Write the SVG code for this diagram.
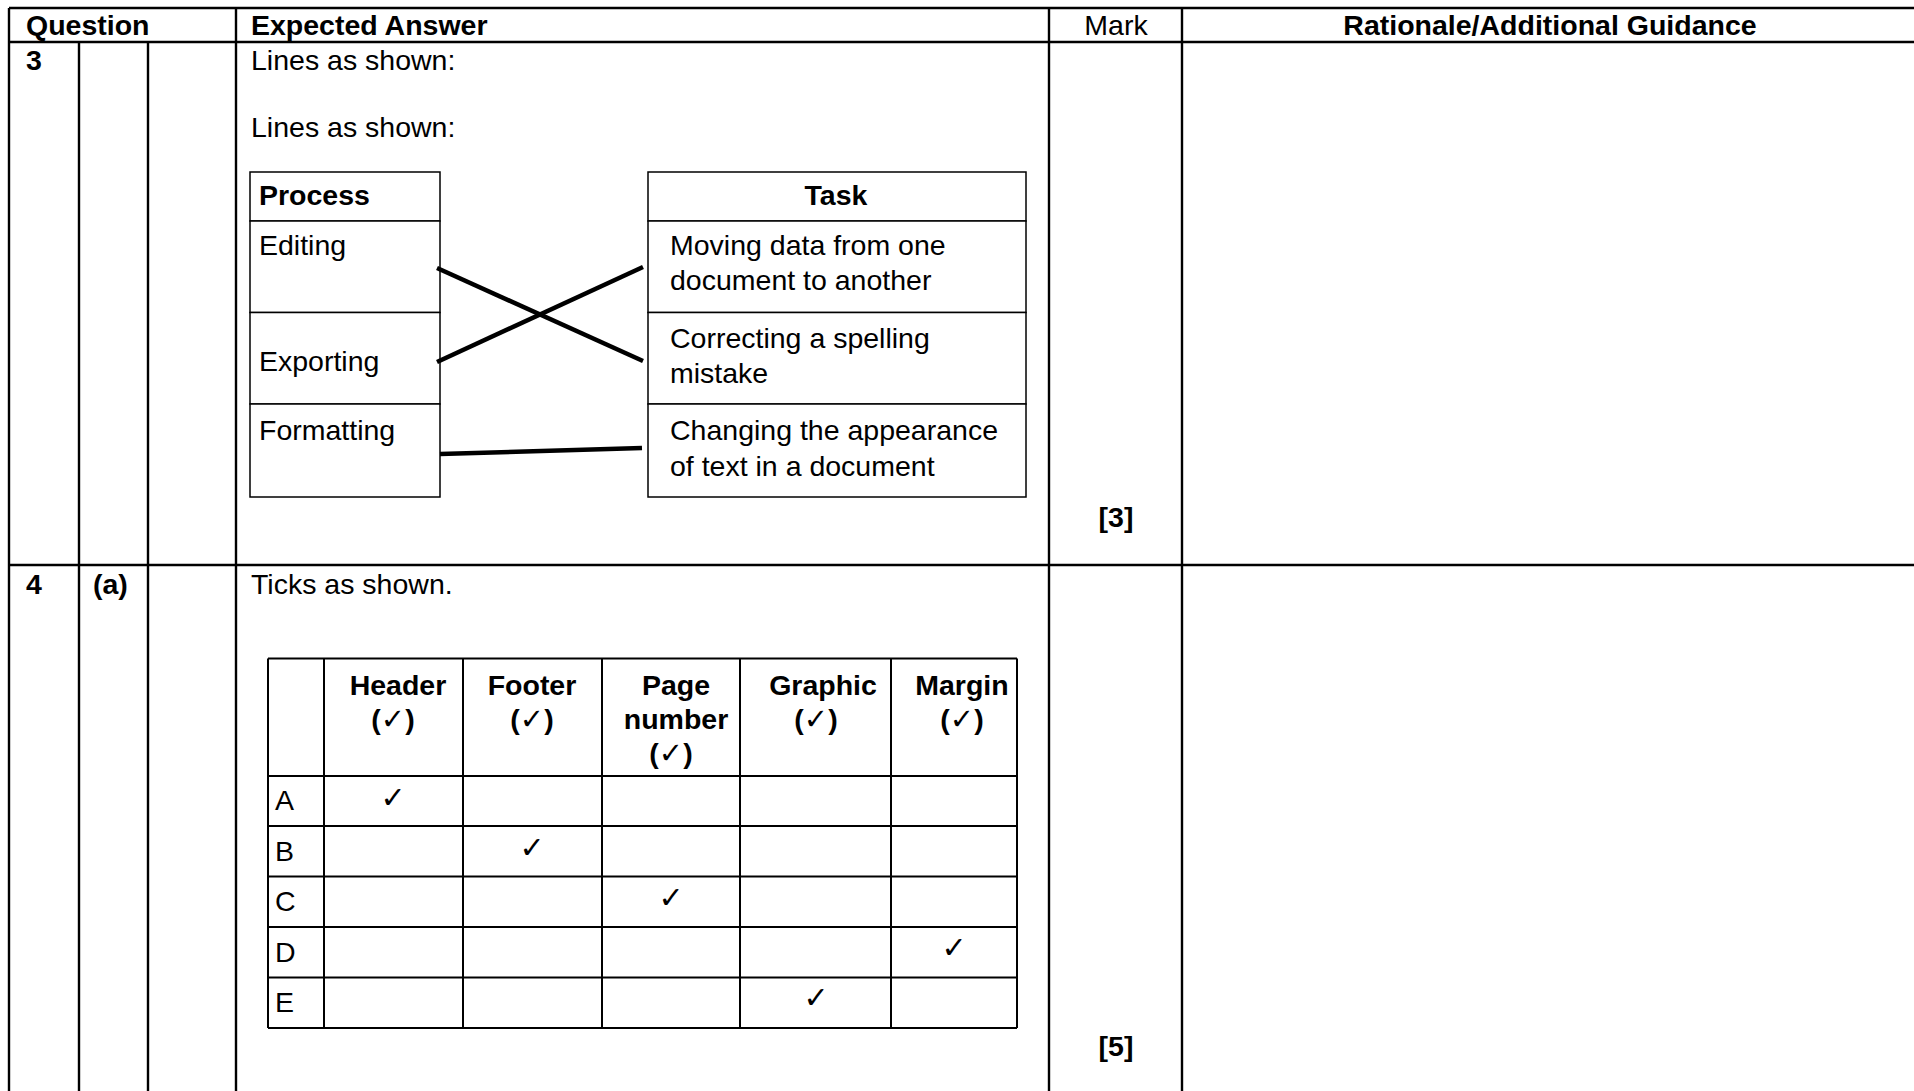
<svg xmlns="http://www.w3.org/2000/svg" width="1914" height="1091" viewBox="0 0 1914 1091">
<style>
  text { font-family: "Liberation Sans", Arial, "DejaVu Sans", sans-serif; font-size: 28.5px; fill: #000; }
  .b { font-weight: bold; }
  .m { text-anchor: middle; }
  .grid { stroke: #000; stroke-width: 2.4; fill: none; }
  .cell { stroke: #000; stroke-width: 1.5; fill: #fff; }
  .tt { stroke: #000; stroke-width: 2; fill: none; }
  .conn { stroke: #000; stroke-width: 4.5; fill: none; stroke-linecap: butt; }
  .tick { font-family: "DejaVu Sans", sans-serif; font-weight: bold; font-size: 30px; text-anchor: middle; }
  .ck { font-family: "DejaVu Sans", sans-serif; font-weight: bold; font-size: 29px; }
</style>
<rect x="0" y="0" width="1914" height="1091" fill="#fff"/>

<g id="main-table">
  <path class="grid" d="M9 8 H1914 M9 42 H1914 M9 565 H1914 M9 8 V1091 M79 42 V1091 M148 42 V1091 M236 8 V1091 M1049 8 V1091 M1182 8 V1091"/>
  <text class="b" x="26" y="35">Question</text>
  <text class="b" x="251" y="35">Expected Answer</text>
  <text class="m" x="1116" y="35">Mark</text>
  <text class="b m" x="1550" y="35">Rationale/Additional Guidance</text>
  <text class="b" x="26" y="70">3</text>
  <text x="251" y="70">Lines as shown:</text>
  <text x="251" y="137">Lines as shown:</text>
  <text class="b m" x="1116" y="527">[3]</text>
  <text class="b" x="26" y="594">4</text>
  <text class="b" x="93" y="594">(a)</text>
  <text x="251" y="594">Ticks as shown.</text>
  <text class="b m" x="1116" y="1056">[5]</text>
</g>

<g id="process-header"><rect class="cell" x="250" y="172" width="190" height="49"/><text class="b" x="259" y="205">Process</text></g>
<g id="process-editing"><rect class="cell" x="250" y="221" width="190" height="91.5"/><text x="259" y="255">Editing</text></g>
<g id="process-exporting"><rect class="cell" x="250" y="312.5" width="190" height="91.5"/><text x="259" y="371">Exporting</text></g>
<g id="process-formatting"><rect class="cell" x="250" y="404" width="190" height="93"/><text x="259" y="440">Formatting</text></g>

<g id="task-header"><rect class="cell" x="648" y="172" width="378" height="49"/><text class="b m" x="836" y="205">Task</text></g>
<g id="task-moving"><rect class="cell" x="648" y="221" width="378" height="91.5"/><text x="670" y="255">Moving data from one</text><text x="670" y="290">document to another</text></g>
<g id="task-correcting"><rect class="cell" x="648" y="312.5" width="378" height="91.5"/><text x="670" y="348">Correcting a spelling</text><text x="670" y="383">mistake</text></g>
<g id="task-changing"><rect class="cell" x="648" y="404" width="378" height="93"/><text x="670" y="440">Changing the appearance</text><text x="670" y="476">of text in a document</text></g>

<g id="connectors">
  <line class="conn" x1="437" y1="268" x2="643" y2="361"/>
  <line class="conn" x1="437" y1="362" x2="643" y2="267"/>
  <line class="conn" x1="440" y1="454" x2="642" y2="448"/>
</g>

<g id="tick-table">
  <path class="tt" d="M268 658.5 H1017 M268 776 H1017 M268 826 H1017 M268 876.5 H1017 M268 927 H1017 M268 977.5 H1017 M268 1028 H1017 M268 658.5 V1028 M324 658.5 V1028 M463 658.5 V1028 M602 658.5 V1028 M740 658.5 V1028 M891 658.5 V1028 M1017 658.5 V1028"/>
  <text class="b m" x="398" y="695">Header</text>
  <text class="b m" x="393" y="729">(<tspan class="ck">✓</tspan>)</text>
  <text class="b m" x="532" y="695">Footer</text>
  <text class="b m" x="532" y="729">(<tspan class="ck">✓</tspan>)</text>
  <text class="b m" x="676" y="695">Page</text>
  <text class="b m" x="676" y="729">number</text>
  <text class="b m" x="671" y="763">(<tspan class="ck">✓</tspan>)</text>
  <text class="b m" x="823" y="695">Graphic</text>
  <text class="b m" x="816" y="729">(<tspan class="ck">✓</tspan>)</text>
  <text class="b m" x="962" y="695">Margin</text>
  <text class="b m" x="962" y="729">(<tspan class="ck">✓</tspan>)</text>
  <text x="275" y="810">A</text>
  <text x="275" y="861">B</text>
  <text x="275" y="911">C</text>
  <text x="275" y="962">D</text>
  <text x="275" y="1012">E</text>
  <text class="tick" x="393" y="808">✓</text>
  <text class="tick" x="532" y="858">✓</text>
  <text class="tick" x="671" y="908">✓</text>
  <text class="tick" x="954" y="958">✓</text>
  <text class="tick" x="816" y="1008">✓</text>
</g>
</svg>
